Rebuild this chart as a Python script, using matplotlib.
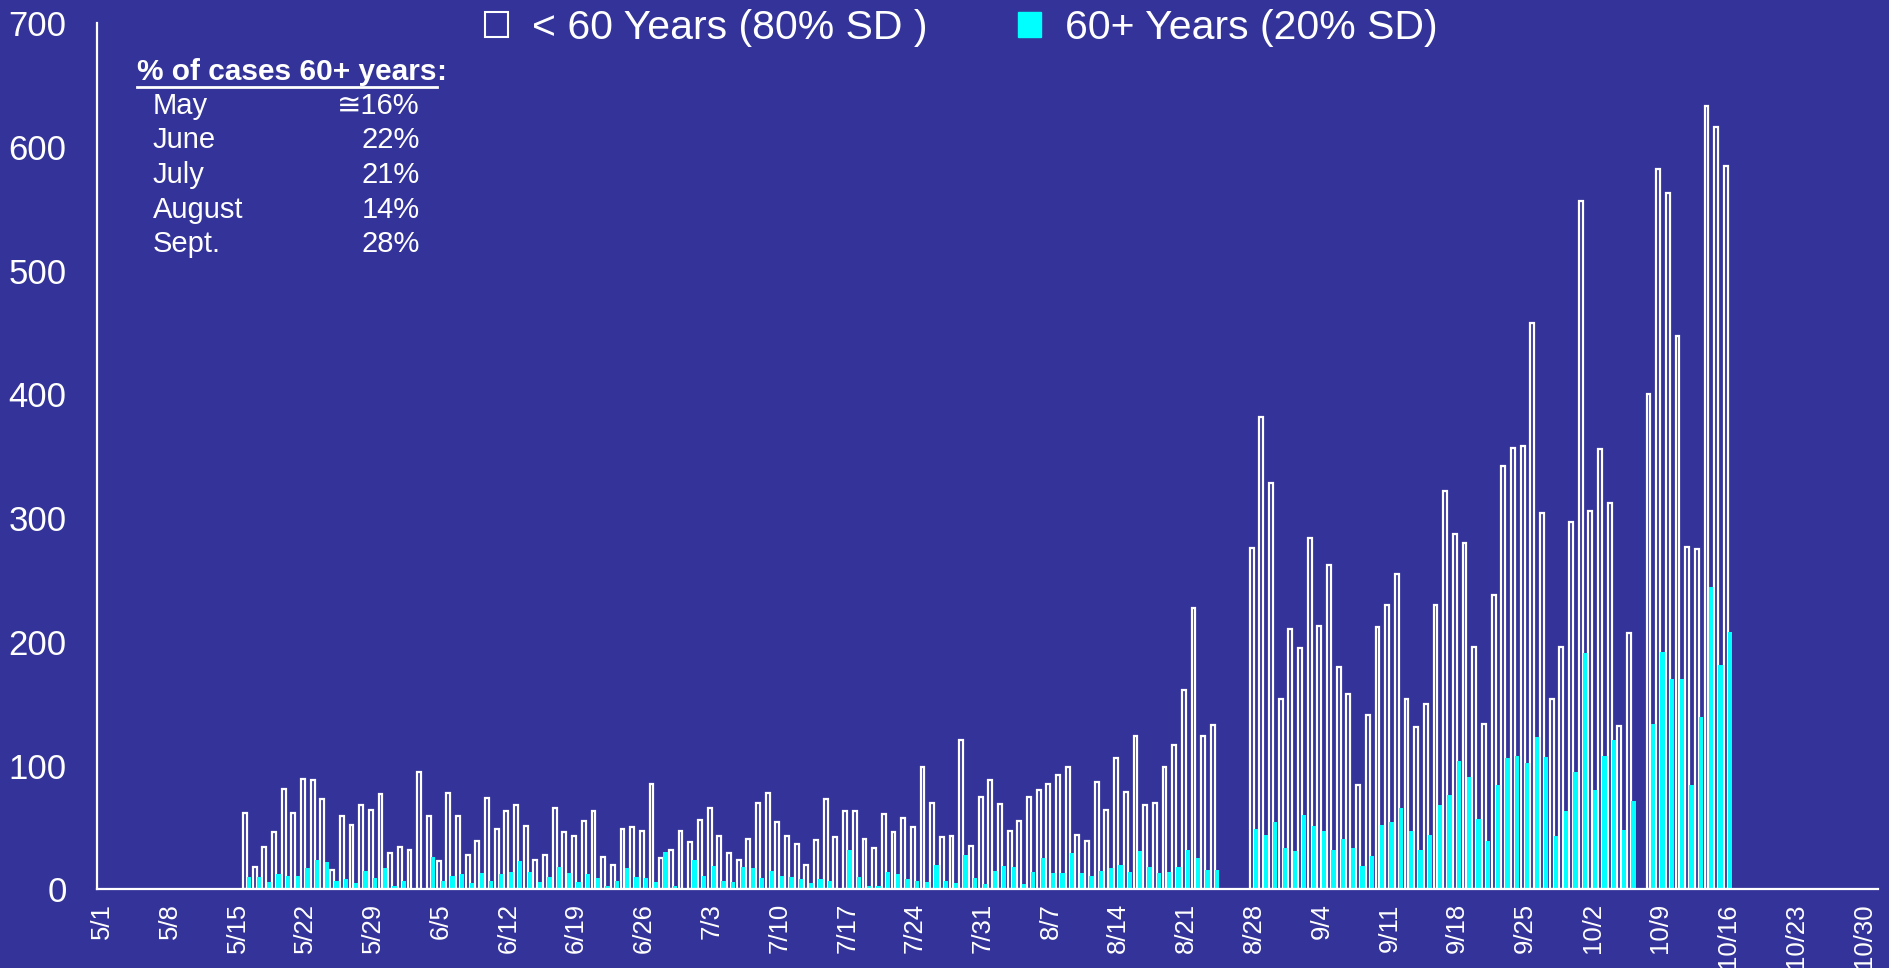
import numpy as np
import pandas as pd
import matplotlib
matplotlib.use("Agg")
import matplotlib.pyplot as plt
from matplotlib.patches import Patch
from matplotlib.lines import Line2D

BG = "#333399"
CYAN = "#00ffff"
nan = np.nan

# daily cases, first bar is 5/16 (nan = no data that day)
first_day = "2020-05-16"
axis_start = "2020-05-01"

under60 = [
    62, 18, 34, 46, 81, 62, 89, 88, 73, 16, 59, 52, 68, 64, 77, 29,  # May 16-31
    34, 32, 95, 59, 23, 78, 59, 28, 39, 74, 49, 63, 68, 51, 24,
    28, 66, 46, 43, 55, 63, 26, 20, 49, 50, 47, 85, 25, 32, 47,  # June
    38, 56, 66, 43, 29, 24, 41, 70, 78, 54, 43, 37, 20, 40, 73, 42,
    63, 63, 41, 33, 61, 46, 58, 50, 99, 70, 42, 43, 121, 35, 75,  # July
    88, 69, 47, 55, 75, 80, 85, 92, 99, 44, 39, 87, 64, 106, 79, 124,
    68, 70, 99, 117, 161, 227, 124, 133, nan, nan, nan, 276, 382, 328, 154,  # Aug
    210, 195, 284, 213, 262, 180, 158, 84, 141, 212, 230, 255, 154, 131, 150,
    230, 322, 287, 280, 196, 134, 238, 342, 357, 358, 458, 304, 154, 196, 297,  # Sept
    556, 306, 356, 312, 132, 207, nan, 400, 582, 563, 447, 277, 275, 633, 616, 585,  # Oct 1-16
]

over60 = [
    10, 10, 6, 12, 11, 11, 17, 24, 22, 7, 8, 5, 15, 9, 17, 3,  # May 16-31
    7, 1, 0, 26, 7, 11, 12, 5, 13, 7, 12, 14, 23, 14, 6,
    10, 18, 13, 6, 12, 9, 3, 7, 17, 10, 9, 6, 30, 3, 0,  # June
    24, 11, 19, 7, 6, 18, 17, 9, 15, 11, 10, 8, 5, 8, 7, 0,
    32, 10, 3, 3, 14, 12, 8, 7, 6, 20, 7, 5, 28, 9, 4,  # July
    15, 19, 18, 4, 14, 25, 13, 13, 29, 13, 11, 15, 17, 20, 14, 31,
    18, 13, 14, 18, 32, 25, 16, 16, nan, nan, nan, 49, 44, 54, 33,  # Aug
    31, 60, 51, 47, 32, 41, 33, 19, 27, 52, 54, 66, 47, 32, 44,
    68, 76, 104, 91, 57, 39, 84, 106, 108, 102, 123, 107, 43, 63, 95,  # Sept
    191, 80, 108, 121, 48, 71, nan, 134, 192, 170, 170, 84, 139, 244, 181, 208,  # Oct 1-16
]

tick_dates = pd.date_range(axis_start, "2020-10-30", freq="7D")
tick_labels = [f"{d.month}/{d.day}" for d in tick_dates]

months = ["May", "June", "July", "August", "Sept."]
pct_60plus = ["\u224516%", "22%", "21%", "14%", "28%"]

plt.rcParams["font.family"] = ["Liberation Sans", "DejaVu Sans"]

days = pd.date_range(first_day, periods=len(under60))
x = np.asarray((days - pd.Timestamp(axis_start)).days, dtype=float)
u = np.array(under60, dtype=float)
o = np.array(over60, dtype=float)
ok = np.isfinite(u)

fig = plt.figure(figsize=(18.89, 9.68), dpi=100, facecolor=BG)
ax = fig.add_axes([0.0514, 0.0813, 0.9428, 0.8947])
ax.set_facecolor(BG)

w = 0.40
ax.bar(x[ok] - 0.22, u[ok], width=w, facecolor=BG, edgecolor="white", linewidth=1.6)
ax.bar(x[ok] + 0.23, o[ok], width=w + 0.04, color=CYAN, linewidth=0)

ax.set_xlim(-0.5, 183.5)
ax.set_ylim(0, 700)
ax.set_yticks(range(0, 701, 100))
ax.set_xticks((tick_dates - pd.Timestamp(axis_start)).days)
ax.set_xticklabels(tick_labels, rotation=90)
ax.tick_params(axis="both", length=0, colors="white")
ax.tick_params(axis="y", labelsize=25, pad=22)
ax.tick_params(axis="x", labelsize=18.5, pad=10)
for s in ["top", "right"]:
    ax.spines[s].set_visible(False)
for s in ["left", "bottom"]:
    ax.spines[s].set_color("white")
    ax.spines[s].set_linewidth(1.6)

handles = [Patch(facecolor=BG, edgecolor="white", linewidth=1.5),
           Patch(facecolor=CYAN, edgecolor=CYAN)]
fig.legend(handles, ["< 60 Years (80% SD )", "60+ Years (20% SD)"],
           loc="center", bbox_to_anchor=(0.509, 0.971), ncol=2, frameon=False,
           fontsize=29.5, labelcolor="white", handlelength=0.55, handleheight=0.55,
           handletextpad=0.6, columnspacing=2.2)

# inset note with the monthly share of 60+ cases
H = 968.0
title = fig.text(137 / 1889, 1 - 72 / H, "% of cases 60+ years", color="white",
                 fontsize=21.5, fontweight="bold", va="center", ha="left")
fig.canvas.draw()
bb = title.get_window_extent(fig.canvas.get_renderer())
fig.text(bb.x1 / 1889, 1 - 72 / H, ":", color="white", fontsize=21.5,
         fontweight="bold", va="center", ha="left")
uy = (bb.y0 - 1) / H
fig.add_artist(Line2D([bb.x0 / 1889, bb.x1 / 1889], [uy, uy], color="white",
                      linewidth=2, transform=fig.transFigure))
for i, (m, p) in enumerate(zip(months, pct_60plus)):
    y = 1 - (106 + 34.5 * i) / H
    fig.text(153 / 1889, y, m, color="white", fontsize=21, va="center", ha="left")
    fig.text(420 / 1889, y, p, color="white", fontsize=21, va="center", ha="right")

fig.savefig("out.png", dpi=100, facecolor=BG)
